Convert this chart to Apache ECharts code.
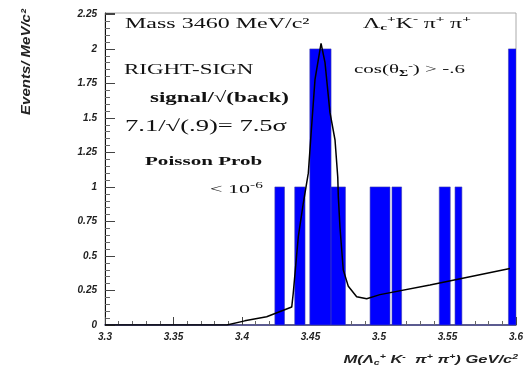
<!DOCTYPE html>
<html><head><meta charset="utf-8">
<script src="https://cdn.jsdelivr.net/npm/echarts@6/dist/echarts.min.js"></script>
<style>html,body{margin:0;padding:0;background:#fff}#chart{width:532px;height:371px}</style>
</head><body><div id="chart"></div>
<script>
// Histogram bins: lower edge, upper edge (GeV/c^2) and entries
const binLow   = [3.4240, 3.4385, 3.4495, 3.4650, 3.4935, 3.5095, 3.5440, 3.5555, 3.5945];
const binHigh  = [3.4310, 3.4460, 3.4650, 3.4755, 3.5080, 3.5165, 3.5520, 3.5605, 3.6000];
const binCount = [1, 1, 2, 1, 1, 1, 1, 1, 2];

// Fit curve (signal peak on a rising background), sampled points
const fitMass  = [3.300, 3.389, 3.402, 3.418, 3.4363, 3.4374, 3.4411, 3.4447, 3.4484, 3.4501, 3.4533,
                  3.4577, 3.4606, 3.4642, 3.4679, 3.4699, 3.4703, 3.4715, 3.4739, 3.4776, 3.4837,
                  3.4910, 3.5007, 3.5372, 3.5956];
const fitValue = [0, 0, 0.03, 0.06, 0.13, 0.23, 0.64, 0.88, 1.10, 1.34, 1.78,
                  2.04, 1.90, 1.54, 1.34, 1.07, 0.93, 0.71, 0.40, 0.28, 0.205,
                  0.19, 0.22, 0.29, 0.41];

// Axis tick labels
const xTickLabels = ['3.3', '3.35', '3.4', '3.45', '3.5', '3.55', '3.6'];
const yTickLabels = ['0', '0.25', '0.5', '0.75', '1', '1.25', '1.5', '1.75', '2', '2.25'];

function pickLabel(list, v) {
  for (const s of list) if (Math.abs(parseFloat(s) - v) < 1e-6) return s;
  return '';
}

const chart = echarts.init(document.getElementById('chart'), null, {renderer: 'canvas'});
const tickFont = {fontFamily: 'Liberation Sans', fontStyle: 'italic', fontWeight: 'bold', fontSize: 10, color: '#222'};

chart.setOption({
  animation: false,
  backgroundColor: '#fff',
  grid: {left: 105, top: 13, right: 16, bottom: 46, show: true, borderColor: '#aaa', borderWidth: 1},
  xAxis: {
    type: 'value', min: 3.3, max: 3.6, interval: 0.05,
    axisLine: {show: true, onZero: false, lineStyle: {color: '#33337a', width: 1.5}},
    axisTick: {show: true, inside: true, length: 8, lineStyle: {color: '#444'}},
    minorTick: {show: true, splitNumber: 5, length: 4, lineStyle: {color: '#666'}},
    splitLine: {show: false},
    axisLabel: Object.assign({margin: 7, formatter: v => pickLabel(xTickLabels, v)}, tickFont)
  },
  yAxis: {
    type: 'value', min: 0, max: 2.26, interval: 0.25,
    axisLine: {show: true, lineStyle: {color: '#111', width: 1}},
    axisTick: {show: true, inside: true, length: 10, lineStyle: {color: '#444'}},
    minorTick: {show: true, splitNumber: 5, length: 5, lineStyle: {color: '#666'}},
    splitLine: {show: false},
    axisLabel: Object.assign({margin: 8, formatter: v => pickLabel(yTickLabels, v)}, tickFont)
  },
  series: [
    {
      type: 'custom',
      clip: true,
      encode: {x: [0, 1], y: 2},
      data: binLow.map((lo, i) => [lo, binHigh[i], binCount[i]]),
      renderItem: function (params, api) {
        const p0 = api.coord([api.value(0), api.value(2)]);
        const p1 = api.coord([api.value(1), 0]);
        return {
          type: 'rect',
          shape: {x: p0[0], y: p0[1], width: p1[0] - p0[0], height: p1[1] - p0[1]},
          style: {fill: '#0000ff', stroke: '#4040b0', lineWidth: 0.6}
        };
      },
      z: 2
    },
    {
      type: 'line',
      data: fitMass.map((m, i) => [m, fitValue[i]]),
      showSymbol: false,
      smooth: false,
      lineStyle: {color: '#000', width: 1.5},
      z: 3
    }
  ],
  graphic: [
    {type: 'text', x: 27, y: 62, rotation: Math.PI / 2, scaleX: 1.25, style: {
      text: 'Events/ MeV/c²', font: 'italic bold 12px "Liberation Sans"', fill: '#222',
      align: 'center', verticalAlign: 'middle'}},
    {type: 'text', x: 125, y: 24, scaleX: 1.6, style: {
      text: 'Mass 3460 MeV/c²', font: '15px "Liberation Serif"', fill: '#111', verticalAlign: 'middle'}},
    {type: 'text', x: 363, y: 24, scaleX: 1.7, style: {
      text: '{m|Λ}{s|c}{p|+}{m|K}{p|-} {m|π}{p|+} {m|π}{p|+}', verticalAlign: 'middle',
      rich: {
        m: {font: '14px "Liberation Serif"', fill: '#111'},
        s: {font: 'bold 9px "Liberation Serif"', fill: '#111', padding: [8, 0, 0, 0]},
        p: {font: 'bold 9px "Liberation Serif"', fill: '#111', padding: [0, 0, 8, 0]}
      }}},
    {type: 'text', x: 124, y: 70, scaleX: 1.53, style: {
      text: 'RIGHT-SIGN', font: '15px "Liberation Serif"', fill: '#111', verticalAlign: 'middle'}},
    {type: 'text', x: 354, y: 70, scaleX: 1.75, style: {
      text: '{m|cos(θ}{s|Σ}{p|-}{m|) > -.6}', verticalAlign: 'middle',
      rich: {
        m: {font: '12px "Liberation Serif"', fill: '#111'},
        s: {font: 'bold 8px "Liberation Serif"', fill: '#111', padding: [7, 0, 0, 0]},
        p: {font: 'bold 8px "Liberation Serif"', fill: '#111', padding: [0, 0, 7, 0]}
      }}},
    {type: 'text', x: 150, y: 98, scaleX: 1.53, style: {
      text: 'signal/√(back)', font: 'bold 15px "Liberation Serif"', fill: '#111', verticalAlign: 'middle'}},
    {type: 'text', x: 125, y: 127, scaleX: 1.66, style: {
      text: '7.1/√(.9)= 7.5σ', font: '16px "Liberation Serif"', fill: '#111', verticalAlign: 'middle'}},
    {type: 'text', x: 145, y: 162, scaleX: 1.62, style: {
      text: 'Poisson Prob', font: 'bold 13px "Liberation Serif"', fill: '#111', verticalAlign: 'middle'}},
    {type: 'text', x: 210, y: 190, scaleX: 1.7, style: {
      text: '{m|< 10}{p|-6}', verticalAlign: 'middle',
      rich: {
        m: {font: '13px "Liberation Serif"', fill: '#111'},
        p: {font: '9px "Liberation Serif"', fill: '#111', padding: [0, 0, 8, 0]}
      }}},
    {type: 'text', x: 518, y: 360, scaleX: 1.5, style: {
      text: '{m|M(Λ}{s|c}{p|+}{m| K}{p|-}{m|  π}{p|+}{m| π}{p|+}{m|) GeV/c}{p|2}', align: 'right', verticalAlign: 'middle',
      rich: {
        m: {font: 'italic bold 11px "Liberation Sans"', fill: '#222'},
        s: {font: 'italic bold 7px "Liberation Sans"', fill: '#222', padding: [6, 0, 0, 0]},
        p: {font: 'italic bold 7px "Liberation Sans"', fill: '#222', padding: [0, 0, 6, 0]}
      }}}
  ]
});
</script>
</body></html>
